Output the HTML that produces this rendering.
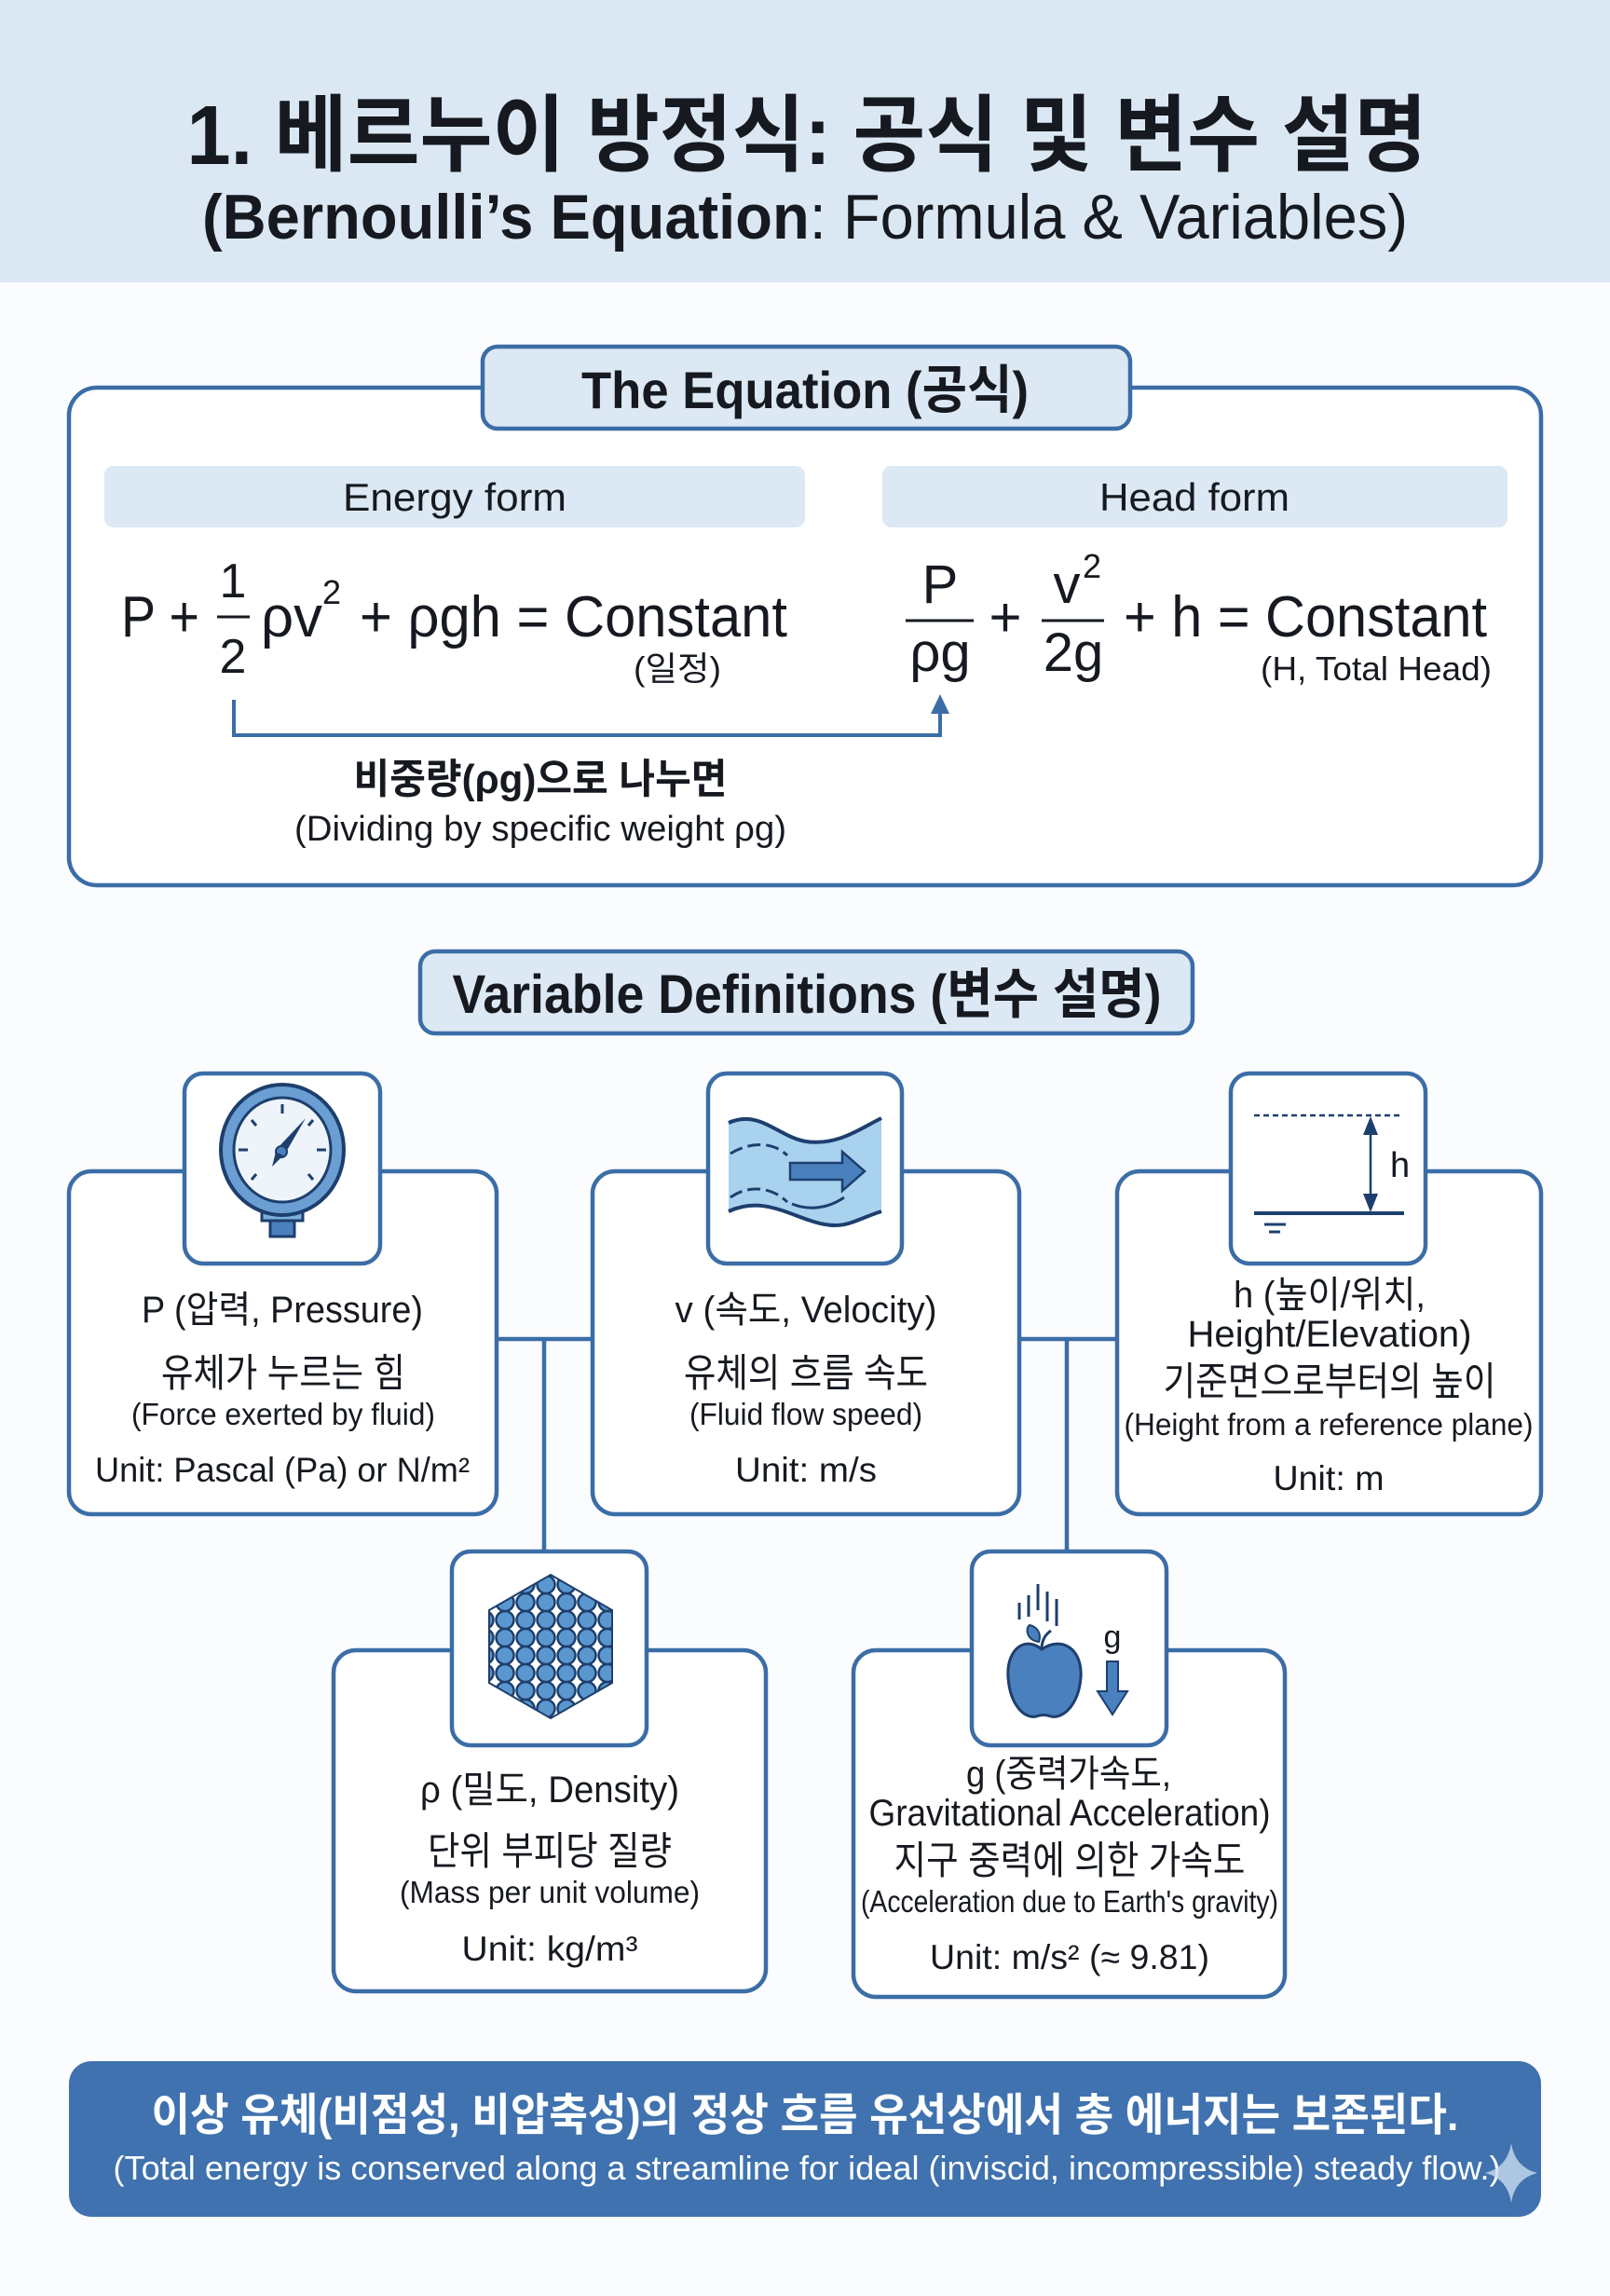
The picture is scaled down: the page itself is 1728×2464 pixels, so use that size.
<!DOCTYPE html>
<html><head><meta charset="utf-8"><style>
html,body{margin:0;padding:0;background:#fbfcfe;}
svg{display:block}
text{font-family:"Liberation Sans","Noto Sans CJK KR",sans-serif;fill:#161a20;}
.b{font-weight:bold}
</style></head><body>
<svg width="1728" height="2464" viewBox="0 0 1728 2464" xmlns="http://www.w3.org/2000/svg">
<defs>
<pattern id="dots" x="3" y="0" width="22" height="19" patternUnits="userSpaceOnUse">
<circle cx="11" cy="9.5" r="9.5" fill="#5b97cf" stroke="#1d3f6e" stroke-width="2.5"/>
</pattern>
</defs>
<rect width="1728" height="2464" fill="#fbfcfe"/>
<rect x="0" y="0" width="1728" height="303" fill="#dbe8f3"/>
<text x="866" y="176" text-anchor="middle" font-size="90" class="b" textLength="1331" lengthAdjust="spacingAndGlyphs">1. 베르누이 방정식: 공식 및 변수 설명</text>
<text x="864" y="256" text-anchor="middle" font-size="68" textLength="1294" lengthAdjust="spacingAndGlyphs"><tspan class="b">(Bernoulli’s Equation</tspan>: Formula &amp; Variables)</text>

<rect x="74" y="416" width="1580" height="534" rx="30" fill="#fff" stroke="#3b6da6" stroke-width="4.5"/>
<rect x="518" y="372" width="695" height="88" rx="16" fill="#dce8f3" stroke="#3b6da6" stroke-width="4.5"/>
<text x="864" y="438" text-anchor="middle" font-size="56" class="b" textLength="480" lengthAdjust="spacingAndGlyphs">The Equation (공식)</text>
<rect x="112" y="500" width="752" height="66" rx="10" fill="#dce8f3"/>
<text x="488" y="548" text-anchor="middle" font-size="42" textLength="240" lengthAdjust="spacingAndGlyphs">Energy form</text>
<rect x="947" y="500" width="671" height="66" rx="10" fill="#dce8f3"/>
<text x="1282" y="548" text-anchor="middle" font-size="42" textLength="204" lengthAdjust="spacingAndGlyphs">Head form</text>

<text x="130" y="683" font-size="62" textLength="84" lengthAdjust="spacingAndGlyphs">P +</text>
<text x="250" y="641" text-anchor="middle" font-size="52">1</text>
<line x1="233" y1="662" x2="268" y2="662" stroke="#161a20" stroke-width="3"/>
<text x="250" y="722" text-anchor="middle" font-size="52">2</text>
<text x="280" y="683" font-size="62" textLength="66" lengthAdjust="spacingAndGlyphs">ρv</text>
<text x="346" y="648" font-size="36">2</text>
<text x="386" y="683" font-size="62" textLength="459" lengthAdjust="spacingAndGlyphs">+ ρgh = Constant</text>
<text x="727" y="730" text-anchor="middle" font-size="36" textLength="94" lengthAdjust="spacingAndGlyphs">(일정)</text>

<text x="1009" y="647" text-anchor="middle" font-size="58">P</text>
<line x1="972" y1="666" x2="1045" y2="666" stroke="#161a20" stroke-width="3"/>
<text x="1009" y="720" text-anchor="middle" font-size="58">ρg</text>
<text x="1079" y="683" text-anchor="middle" font-size="60">+</text>
<text x="1145" y="647" text-anchor="middle" font-size="58">v</text>
<text x="1162" y="620" font-size="36">2</text>
<line x1="1118" y1="666" x2="1185" y2="666" stroke="#161a20" stroke-width="3"/>
<text x="1152" y="720" text-anchor="middle" font-size="58">2g</text>
<text x="1206" y="683" font-size="62" textLength="390" lengthAdjust="spacingAndGlyphs">+ h = Constant</text>
<text x="1477" y="730" text-anchor="middle" font-size="36" textLength="248" lengthAdjust="spacingAndGlyphs">(H, Total Head)</text>

<polyline points="251,751 251,789 1009,789 1009,762" fill="none" stroke="#3b6da6" stroke-width="4"/>
<polygon points="1009,745 999,766 1019,766" fill="#3b6da6"/>
<text x="580" y="851" text-anchor="middle" font-size="44" class="b" textLength="401" lengthAdjust="spacingAndGlyphs">비중량(ρg)으로 나누면</text>
<text x="580" y="902" text-anchor="middle" font-size="38" textLength="528" lengthAdjust="spacingAndGlyphs">(Dividing by specific weight ρg)</text>

<rect x="451" y="1021" width="829" height="88" rx="16" fill="#dce8f3" stroke="#3b6da6" stroke-width="4.5"/>
<text x="866" y="1087" text-anchor="middle" font-size="58" class="b" textLength="761" lengthAdjust="spacingAndGlyphs">Variable Definitions (변수 설명)</text>

<g stroke="#3b6da6" stroke-width="4.5" fill="none">
<line x1="533" y1="1437" x2="636" y2="1437"/>
<line x1="1094" y1="1437" x2="1199" y2="1437"/>
<line x1="584" y1="1437" x2="584" y2="1665"/>
<line x1="1145" y1="1437" x2="1145" y2="1665"/>
</g>

<g fill="#fff" stroke="#3b6da6" stroke-width="4.5">
<rect x="74" y="1257" width="459" height="368" rx="24"/>
<rect x="636" y="1257" width="458" height="368" rx="24"/>
<rect x="1199" y="1257" width="455" height="368" rx="24"/>
<rect x="358" y="1771" width="464" height="366" rx="24"/>
<rect x="916" y="1771" width="463" height="372" rx="24"/>
<rect x="198" y="1152" width="210" height="204" rx="20"/>
<rect x="760" y="1152" width="208" height="204" rx="20"/>
<rect x="1321" y="1152" width="209" height="204" rx="20"/>
<rect x="485" y="1665" width="209" height="208" rx="20"/>
<rect x="1043" y="1665" width="209" height="208" rx="20"/>
</g>

<rect x="290" y="1307" width="26" height="20" fill="#4a80bd" stroke="#1d3f6e" stroke-width="3"/>
<rect x="281" y="1294" width="44" height="16" fill="#7aaedb" stroke="#1d3f6e" stroke-width="3"/>
<ellipse cx="303" cy="1234" rx="66" ry="70" fill="#6b9fd3" stroke="#1d3f6e" stroke-width="4"/>
<ellipse cx="303" cy="1234" rx="52" ry="56" fill="#eef4fa" stroke="#1d3f6e" stroke-width="3"/>
<g stroke="#1d3f6e" stroke-width="3">
<line x1="303" y1="1185" x2="303" y2="1195"/><line x1="256" y1="1234" x2="266" y2="1234"/><line x1="340" y1="1234" x2="350" y2="1234"/>
<line x1="270" y1="1202" x2="275" y2="1208"/><line x1="336" y1="1202" x2="331" y2="1208"/>
<line x1="270" y1="1266" x2="275" y2="1260"/><line x1="336" y1="1266" x2="331" y2="1260"/>
</g>
<polygon points="328,1200 306,1238 298,1232" fill="#1d3f6e"/>
<circle cx="302" cy="1236" r="6" fill="#4a80bd" stroke="#1d3f6e" stroke-width="2"/>
<polygon points="296,1236 292,1252 304,1240" fill="#1d3f6e"/>

<path d="M782,1205 C815,1190 835,1220 865,1225 C900,1230 925,1210 946,1200 L946,1300 C915,1310 905,1322 870,1310 C840,1300 815,1285 782,1300 Z" fill="#a9d2ef"/>
<path d="M782,1205 C815,1190 835,1220 865,1225 C900,1230 925,1210 946,1200" fill="none" stroke="#1d3f6e" stroke-width="4"/>
<path d="M782,1300 C815,1285 840,1300 870,1310 C905,1322 915,1310 946,1300" fill="none" stroke="#1d3f6e" stroke-width="4"/>
<path d="M784,1238 C805,1225 830,1225 845,1240" fill="none" stroke="#1d3f6e" stroke-width="3" stroke-dasharray="14 6"/>
<path d="M784,1285 C805,1270 830,1275 845,1290" fill="none" stroke="#1d3f6e" stroke-width="3" stroke-dasharray="14 6"/>
<path d="M850,1292 C870,1300 890,1296 906,1285" fill="none" stroke="#1d3f6e" stroke-width="3"/>
<polygon points="848,1248 904,1248 904,1236 928,1257 904,1278 904,1266 848,1266" fill="#4a80bd" stroke="#1d3f6e" stroke-width="2.5"/>

<line x1="1346" y1="1197" x2="1505" y2="1197" stroke="#1d3f6e" stroke-width="2.5" stroke-dasharray="6 4"/>
<line x1="1346" y1="1302" x2="1507" y2="1302" stroke="#1d3f6e" stroke-width="4"/>
<line x1="1357" y1="1314" x2="1380" y2="1314" stroke="#1d3f6e" stroke-width="3"/>
<line x1="1362" y1="1322" x2="1374" y2="1322" stroke="#1d3f6e" stroke-width="3"/>
<line x1="1471" y1="1210" x2="1471" y2="1290" stroke="#1d3f6e" stroke-width="2.5"/>
<polygon points="1471,1198 1463,1218 1479,1218" fill="#1d3f6e"/>
<polygon points="1471,1301 1463,1281 1479,1281" fill="#1d3f6e"/>
<text x="1492" y="1263" font-size="38">h</text>

<polygon points="591,1690 657,1728 657,1806 591,1844 525,1806 525,1728" fill="url(#dots)" stroke="#1d3f6e" stroke-width="2"/>

<g stroke="#1d3f6e" stroke-width="3">
<line x1="1094" y1="1720" x2="1094" y2="1738"/><line x1="1104" y1="1712" x2="1104" y2="1735"/>
<line x1="1114" y1="1700" x2="1114" y2="1728"/><line x1="1124" y1="1708" x2="1124" y2="1740"/>
<line x1="1134" y1="1716" x2="1134" y2="1745"/>
</g>
<path d="M1118,1770 C1100,1755 1080,1770 1082,1800 C1084,1830 1100,1845 1112,1842 C1118,1840 1122,1840 1128,1842 C1142,1845 1158,1828 1160,1800 C1162,1770 1140,1755 1118,1770 Z" fill="#4a80bd" stroke="#1d3f6e" stroke-width="3"/>
<path d="M1118,1770 C1118,1760 1122,1754 1128,1750" fill="none" stroke="#1d3f6e" stroke-width="3"/>
<path d="M1115,1762 C1102,1760 1100,1748 1105,1744 C1114,1746 1118,1754 1115,1762 Z" fill="#4a80bd" stroke="#1d3f6e" stroke-width="2"/>
<text x="1194" y="1768" text-anchor="middle" font-size="34">g</text>
<polygon points="1188,1783 1200,1783 1200,1815 1210,1815 1194,1840 1178,1815 1188,1815" fill="#4a80bd" stroke="#1d3f6e" stroke-width="2"/>

<g font-size="40">
<text x="303" y="1419" text-anchor="middle" textLength="302" lengthAdjust="spacingAndGlyphs" font-size="40">P (압력, Pressure)</text>
<text x="304" y="1488" text-anchor="middle" textLength="262" lengthAdjust="spacingAndGlyphs" font-size="42">유체가 누르는 힘</text>
<text x="304" y="1529" text-anchor="middle" textLength="326" lengthAdjust="spacingAndGlyphs" font-size="33">(Force exerted by fluid)</text>
<text x="303" y="1590" text-anchor="middle" textLength="402" lengthAdjust="spacingAndGlyphs" font-size="37">Unit: Pascal (Pa) or N/m²</text>

<text x="865" y="1419" text-anchor="middle" textLength="281" lengthAdjust="spacingAndGlyphs" font-size="40">v (속도, Velocity)</text>
<text x="865" y="1488" text-anchor="middle" textLength="262" lengthAdjust="spacingAndGlyphs" font-size="42">유체의 흐름 속도</text>
<text x="865" y="1529" text-anchor="middle" textLength="250" lengthAdjust="spacingAndGlyphs" font-size="33">(Fluid flow speed)</text>
<text x="865" y="1590" text-anchor="middle" textLength="152" lengthAdjust="spacingAndGlyphs" font-size="37">Unit: m/s</text>

<text x="1427" y="1403" text-anchor="middle" textLength="206" lengthAdjust="spacingAndGlyphs" font-size="40">h (높이/위치,</text>
<text x="1427" y="1445" text-anchor="middle" textLength="305" lengthAdjust="spacingAndGlyphs" font-size="40">Height/Elevation)</text>
<text x="1427" y="1497" text-anchor="middle" textLength="357" lengthAdjust="spacingAndGlyphs" font-size="42">기준면으로부터의 높이</text>
<text x="1426" y="1540" text-anchor="middle" textLength="439" lengthAdjust="spacingAndGlyphs" font-size="33">(Height from a reference plane)</text>
<text x="1426" y="1599" text-anchor="middle" textLength="119" lengthAdjust="spacingAndGlyphs" font-size="37">Unit: m</text>

<text x="590" y="1934" text-anchor="middle" textLength="278" lengthAdjust="spacingAndGlyphs" font-size="40">ρ (밀도, Density)</text>
<text x="590" y="2001" text-anchor="middle" textLength="262" lengthAdjust="spacingAndGlyphs" font-size="42">단위 부피당 질량</text>
<text x="590" y="2042" text-anchor="middle" textLength="322" lengthAdjust="spacingAndGlyphs" font-size="33">(Mass per unit volume)</text>
<text x="590" y="2104" text-anchor="middle" textLength="189" lengthAdjust="spacingAndGlyphs" font-size="37">Unit: kg/m³</text>

<text x="1147" y="1917" text-anchor="middle" textLength="220" lengthAdjust="spacingAndGlyphs" font-size="40">g (중력가속도,</text>
<text x="1148" y="1959" text-anchor="middle" textLength="431" lengthAdjust="spacingAndGlyphs" font-size="40">Gravitational Acceleration)</text>
<text x="1148" y="2011" text-anchor="middle" textLength="377" lengthAdjust="spacingAndGlyphs" font-size="42">지구 중력에 의한 가속도</text>
<text x="1148" y="2052" text-anchor="middle" textLength="448" lengthAdjust="spacingAndGlyphs" font-size="33">(Acceleration due to Earth's gravity)</text>
<text x="1148" y="2113" text-anchor="middle" textLength="300" lengthAdjust="spacingAndGlyphs" font-size="37">Unit: m/s² (≈ 9.81)</text>
</g>

<rect x="74" y="2212" width="1580" height="167" rx="24" fill="#3f72ae"/>
<text x="864" y="2286" text-anchor="middle" font-size="48" class="b" style="fill:#fff" textLength="1403" lengthAdjust="spacingAndGlyphs">이상 유체(비점성, 비압축성)의 정상 흐름 유선상에서 총 에너지는 보존된다.</text>
<text x="866" y="2339" text-anchor="middle" font-size="36" style="fill:#fff" textLength="1489" lengthAdjust="spacingAndGlyphs">(Total energy is conserved along a streamline for ideal (inviscid, incompressible) steady flow.)</text>
<path d="M1622,2300 Q1626,2326 1650,2332 Q1626,2338 1622,2364 Q1618,2338 1594,2332 Q1618,2326 1622,2300 Z" fill="#c9dbef" opacity="0.8"/>
</svg>
</body></html>
